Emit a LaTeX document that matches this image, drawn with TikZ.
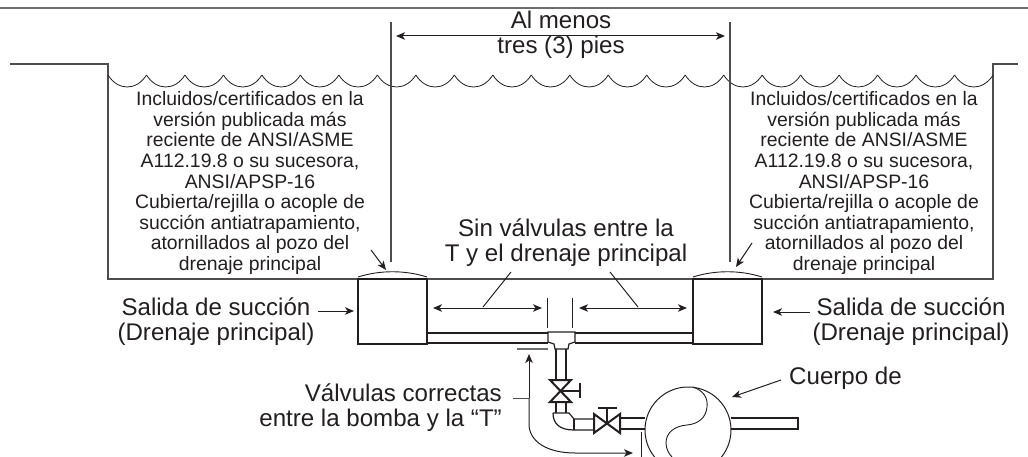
\documentclass[tikz,border=0pt]{standalone}
\usepackage{fontspec}
\usetikzlibrary{arrows.meta}
\setmainfont{Liberation Sans}
\definecolor{ink}{HTML}{231F20}
\definecolor{wall}{HTML}{6D6E71}
\tikzset{
    >={Stealth[length=9pt, width=7.5pt, inset=2.5pt]},
    note/.style={text=ink, font=\fontsize{19.4}{20.6}\selectfont, align=center, inner sep=0pt},
    label/.style={text=ink, font=\fontsize{24.1}{25}\selectfont, align=center, inner sep=0pt},
    pipe/.style={draw=ink, line width=1.2pt},
    arrowline/.style={draw=ink, line width=1pt, ->},
    twoway/.style={draw=ink, line width=1pt, <->},
}
\begin{document}
\begin{tikzpicture}[x=1pt, y=-1pt]
    \clip (0, 0) rectangle (1028, 457);
    \fill[white] (0, 0) rectangle (1028, 457);
    % rule and pool
    \draw[wall, line width=2pt] (0, 8) -- (1028, 8);
    \draw[ink!80, line width=1.4pt] (10, 64) -- (108, 64) -- (108, 279) -- (993, 279) -- (993, 64) -- (1018, 64);
    \foreach \i in {0,...,22} {
        \draw[ink, line width=0.8pt] ({108+38.48*\i}, 75) .. controls ({108+38.48*\i+10}, 91) and ({108+38.48*\i+28.5}, 91) .. ({108+38.48*(\i+1)}, 75);
    }
    % distance
    \draw[ink!80, line width=1.2pt] (391, 22) -- (391, 262);
    \draw[ink!80, line width=1.2pt] (730, 22) -- (730, 262);
    \node[label] (minimo) at (561, 35) {Al menos\\tres (3) pies};
    \coordinate (minimoL) at (396, 36);
    \coordinate (minimoR) at (725, 36);
    \draw[twoway] (minimoL) -- (minimoR);
    % notes
    \node[note] (notaL) at (250, 183) {Incluidos/certificados en la\\versión publicada más\\reciente de ANSI/ASME\\A112.19.8 o su sucesora,\\ANSI/APSP-16\\Cubierta/rejilla o acople de\\succión antiatrapamiento,\\atornillados al pozo del\\drenaje principal};
    \node[note] (notaR) at (864, 183) {Incluidos/certificados en la\\versión publicada más\\reciente de ANSI/ASME\\A112.19.8 o su sucesora,\\ANSI/APSP-16\\Cubierta/rejilla o acople de\\succión antiatrapamiento,\\atornillados al pozo del\\drenaje principal};
    % drains
    \draw[pipe, fill=white] (358, 279) rectangle (427, 344);
    \draw[pipe, fill=white] (693, 279) rectangle (762, 344);
    \draw[ink, line width=0.9pt] (358, 277) .. controls (380, 270) and (405, 270) .. (427, 277);
    \draw[ink, line width=0.9pt] (693, 277) .. controls (715, 270) and (740, 270) .. (762, 277);
    \draw[arrowline] (371, 250) -- (386, 270);
    \draw[arrowline] (752, 243) -- (736, 267);
    \node[label] (salidaL) at (216, 322) {Salida de succión\\(Drenaje principal)};
    \node[label] (salidaR) at (911, 322) {Salida de succión\\(Drenaje principal)};
    \draw[arrowline] (318, 311) -- (354, 311);
    \draw[arrowline] (810, 312) -- (773, 312);
    % main pipe and tee
    \draw[pipe] (427, 333) -- (548, 333) (427, 343) -- (548, 343);
    \draw[pipe] (575, 333) -- (693, 333) (575, 343) -- (693, 343);
    \draw[pipe] (548, 332) -- (575, 332) -- (575, 342) -- (569, 344) -- (568, 349) -- (555, 349) -- (554, 344) -- (548, 342) -- cycle;
    \draw[pipe] (556, 349) -- (556, 380) (566, 349) -- (566, 380);
    % no valves zone
    \node[label] (sinvalvulas) at (566, 243) {Sin válvulas entre la\\T y el drenaje principal};
    \coordinate (zonaA) at (433, 308);
    \coordinate (zonaB) at (542, 308);
    \coordinate (zonaC) at (579, 308);
    \coordinate (zonaD) at (687, 308);
    \draw[twoway] (zonaA) -- (zonaB);
    \draw[twoway] (zonaC) -- (zonaD);
    \draw[ink, line width=1pt] (511, 272) -- (483, 307);
    \draw[ink, line width=1pt] (610, 272) -- (638, 307);
    \draw[ink, line width=1pt] (547, 298) -- (547, 328);
    \draw[ink, line width=1pt] (572, 298) -- (572, 328);
    % valves
    \draw[ink, line width=2pt] (550, 380) -- (571, 380) -- (550, 402) -- (571, 402) -- cycle;
    \draw[ink, line width=1.8pt] (561, 391) -- (580, 391) (580, 383) -- (580, 398);
    \draw[pipe] (556, 402) -- (556, 413) (566, 402) -- (566, 413);
    \draw[pipe] (553, 413) -- (569, 413) -- (574, 419) -- (594, 419);
    \draw[pipe] (553, 413) .. controls (553, 424) and (560, 430) .. (574, 430) -- (594, 430);
    \draw[pipe] (574, 419) -- (574, 430);
    \draw[ink, line width=2pt] (594, 414) -- (594, 433) -- (620, 414) -- (620, 433) -- cycle;
    \draw[ink, line width=1.8pt] (607, 424) -- (607, 408) (598, 408) -- (617, 408);
    \draw[pipe] (620, 418) -- (645, 418) (620, 429) -- (645, 429);
    % pump
    \draw[ink, line width=1pt] (688, 430) circle (43);
    \draw[ink, line width=0.9pt] (693, 387) .. controls (704, 391) and (708, 398) .. (707, 407) .. controls (706, 418) and (698, 424) .. (687, 425) .. controls (674, 426) and (666, 433) .. (666, 443) .. controls (666, 449) and (669, 454) .. (672, 457);
    \draw[pipe] (731, 418) -- (798, 418) -- (798, 429) -- (731, 429);
    \node[label, anchor=west] (cuerpo) at (789, 378) {Cuerpo de};
    \coordinate (cuerpoTip) at (732, 397);
    \draw[arrowline] (cuerpo.west) ++(-8, 2) -- (cuerpoTip);
    % correct valves
    \node[label, anchor=east, align=right] (correctas) at (502, 408) {Válvulas correctas\\entre la bomba y la “T”};
    \draw[wall, line width=1.4pt] (517, 349) -- (548, 349);
    \draw[ink!80, line width=1pt] (513, 398) -- (529, 398);
    \draw[arrowline] (529, 398) -- (529, 354);
    \draw[arrowline] (529, 398) -- (529, 424) .. controls (529, 442) and (548, 453) .. (575, 453) -- (633, 453);
    \draw[ink, line width=1pt] (641, 432) -- (641, 457);
\end{tikzpicture}
\end{document}
